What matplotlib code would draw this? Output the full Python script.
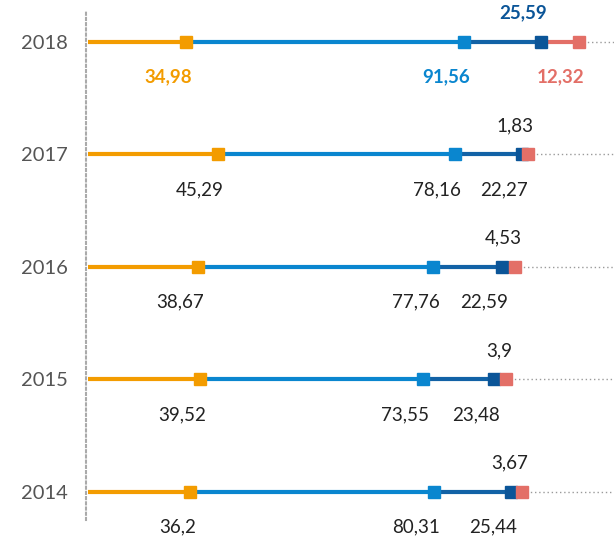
import numpy as np
import matplotlib.pyplot as plt

plt.rcParams['font.family'] = ['Lato', 'DejaVu Sans']

years = [2014, 2015, 2016, 2017, 2018]
orange_vals = [36.2, 39.52, 38.67, 45.29, 34.98]
blue_vals = [80.31, 73.55, 77.76, 78.16, 91.56]
dark_vals = [25.44, 23.48, 22.59, 22.27, 25.59]
red_vals = [3.67, 3.9, 4.53, 1.83, 12.32]

C_ORANGE = '#F39C00'
C_BLUE = '#0A86CF'
C_DARK = '#0B5598'
C_DARK_LINE = '#1262A6'
C_RED = '#E36F67'

PX = 72 / 100  # points per pixel at dpi=100

fig = plt.figure(figsize=(6.14, 5.38), dpi=100)
ax = fig.add_axes([86 / 614, 18 / 538, 528 / 614, 510 / 538])
xmin, xmax = 1.815, 176.07
ax.set_xlim(xmin, xmax)
ax.set_ylim(-0.249, 4.284)


def fmt(v):
    return str(v).replace('.', ',')


for i, yr in enumerate(years):
    segs = [orange_vals[i], blue_vals[i], dark_vals[i], red_vals[i]]
    cum = np.cumsum(segs)
    starts = np.concatenate([[xmin], cum[:-1]])
    line_cols = [C_ORANGE, C_BLUE, C_DARK_LINE, C_RED]
    mark_cols = [C_ORANGE, C_BLUE, C_DARK, C_RED]

    # dotted tail to the right edge
    ax.plot([cum[-1], xmax], [i, i], color='#9a9a9a', lw=1.0,
            ls=(0, (1, 2)), zorder=1, clip_on=False)
    for s, e, lc in zip(starts, cum, line_cols):
        ax.plot([s + 0.6 if s == xmin else s, e], [i, i], color=lc, lw=3,
                solid_capstyle='butt', zorder=2)
    for e, mc in zip(cum, mark_cols):
        ax.plot(e, i, marker='s', ms=8.6, color=mc, mec=mc, zorder=3)

    latest = yr == years[-1]
    above = [False, False, latest, not latest]
    for e, v, mc, up in zip(cum, segs, mark_cols, above):
        dy = 29 * PX if up else -35 * PX
        ax.annotate(fmt(v), (e, i), xytext=(6 * PX, dy), textcoords='offset points',
                    ha='right', va='center', fontsize=13.5,
                    color=mc if latest else '#222222',
                    fontweight='bold' if latest else 'normal')

ax.set_yticks(range(len(years)))
ax.set_yticklabels([str(y) for y in years], fontsize=14.5, color='#555555')
ax.tick_params(axis='y', length=0, pad=13)
ax.set_xticks([])
for side in ['top', 'right', 'bottom']:
    ax.spines[side].set_visible(False)
ax.spines['left'].set_color('#aaaaaa')
ax.spines['left'].set_linewidth(1.5)
ax.spines['left'].set_linestyle((0, (1, 1.5)))
ax.patch.set_alpha(0)

fig.savefig('out.png', dpi=100)
